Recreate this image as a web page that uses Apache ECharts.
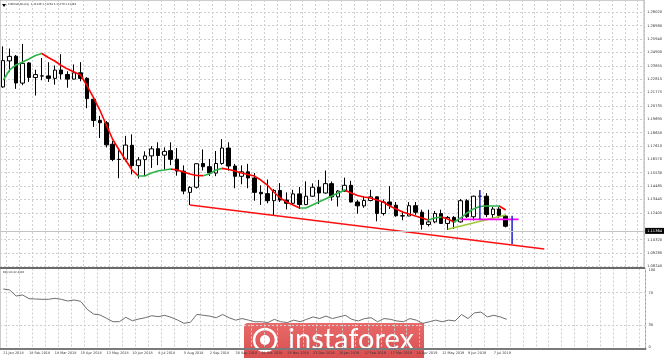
<!DOCTYPE html>
<html><head><meta charset="utf-8">
<script src="https://cdn.jsdelivr.net/npm/echarts@6/dist/echarts.min.js"></script>
<style>html,body{margin:0;padding:0;background:#fff}#c{width:665px;height:358px}</style>
</head><body><div id="c"></div>
<script>
// ---- data (weekly EURUSD, 21 Jan 2018 .. 21 Jul 2019) ----
const openV = [1.2221,1.2424,1.2460,1.2251,1.2408,1.2294,1.2306,1.2307,1.2288,1.2353,
1.2318,1.2282,1.2331,1.2288,1.2125,1.1960,1.1942,1.1775,1.1656,1.1658,
1.1767,1.1608,1.1655,1.1684,1.1740,1.1690,1.1725,1.1658,1.1565,1.1400,
1.1440,1.1625,1.1600,1.1550,1.1625,1.1745,1.1605,1.1525,1.1560,1.1512,
1.1400,1.1390,1.1335,1.1415,1.1340,1.1315,1.1388,1.1305,1.1370,1.1440,
1.1395,1.1468,1.1365,1.1410,1.1455,1.1325,1.1295,1.1337,1.1365,1.1235,
1.1325,1.1300,1.1218,1.1216,1.1296,1.1245,1.1150,1.1170,1.1235,1.1158,
1.1205,1.1170,1.1335,1.1210,1.1370,1.1370,1.1227,1.1270,1.12149];
const closeV = [1.2426,1.2459,1.2252,1.2405,1.2295,1.2317,1.2307,1.2288,1.2352,1.2322,
1.2282,1.2331,1.2288,1.2130,1.1960,1.1942,1.1770,1.1656,1.1657,1.1768,
1.1608,1.1653,1.1684,1.1739,1.1687,1.1719,1.1657,1.1566,1.1410,1.1439,
1.1623,1.1600,1.1550,1.1625,1.1745,1.1605,1.1525,1.1560,1.1512,1.1400,
1.1389,1.1335,1.1415,1.1340,1.1315,1.1388,1.1305,1.1370,1.1440,1.1395,
1.1468,1.1365,1.1410,1.1455,1.1325,1.1295,1.1337,1.1365,1.1235,1.1325,
1.1300,1.1218,1.1216,1.1296,1.1245,1.1150,1.1170,1.1235,1.1158,1.1205,
1.1170,1.1335,1.1210,1.1370,1.1370,1.1227,1.1270,1.1220,1.11364];
const highV = [1.2537,1.2520,1.2470,1.2556,1.2414,1.2355,1.2446,1.2413,1.2388,1.2476,
1.2343,1.2396,1.2414,1.2297,1.2131,1.1996,1.1955,1.1800,1.1728,1.1840,
1.1852,1.1675,1.1720,1.1760,1.1790,1.1750,1.1790,1.1745,1.1610,1.1448,
1.1624,1.1734,1.1660,1.1722,1.1815,1.1790,1.1621,1.1610,1.1622,1.1550,
1.1455,1.1500,1.1425,1.1472,1.1400,1.1420,1.1442,1.1486,1.1470,1.1497,
1.1570,1.1485,1.1418,1.1515,1.1490,1.1340,1.1371,1.1420,1.1368,1.1345,
1.1448,1.1325,1.1256,1.1324,1.1325,1.1265,1.1265,1.1255,1.1265,1.1215,
1.1215,1.1348,1.1347,1.1374,1.1412,1.1394,1.1287,1.1285,1.12254];
const lowV = [1.2214,1.2336,1.2206,1.2235,1.2260,1.2154,1.2273,1.2260,1.2239,1.2280,
1.2215,1.2281,1.2265,1.2055,1.1910,1.1823,1.1750,1.1643,1.1510,1.1640,
1.1540,1.1508,1.1528,1.1590,1.1612,1.1575,1.1612,1.1530,1.1385,1.1301,
1.1430,1.1570,1.1528,1.1526,1.1615,1.1570,1.1432,1.1463,1.1432,1.1335,
1.1302,1.1315,1.1216,1.1325,1.1267,1.1310,1.1270,1.1300,1.1365,1.1309,
1.1390,1.1335,1.1290,1.1405,1.1322,1.1234,1.1280,1.1330,1.1175,1.1220,
1.1270,1.1210,1.1183,1.1215,1.1225,1.1110,1.1135,1.1160,1.1155,1.1107,
1.1115,1.1165,1.1202,1.1181,1.1350,1.1207,1.1193,1.1200,1.11270];
const maV = [1.2275,1.2353,1.2392,1.2415,1.2438,1.2466,1.2481,1.2450,1.2423,1.2388,
1.2360,1.2337,1.2314,1.2232,1.2139,1.2041,1.1925,1.1812,1.1730,1.1652,
1.1574,1.1527,1.1527,1.1551,1.1567,1.1574,1.1582,1.1574,1.1558,1.1543,
1.1531,1.1530,1.1543,1.1574,1.1587,1.1578,1.1566,1.1551,1.1539,1.1527,
1.1496,1.1457,1.1403,1.1356,1.1325,1.1302,1.1278,1.1278,1.1302,1.1325,
1.1348,1.1372,1.1395,1.1419,1.1395,1.1376,1.1364,1.1356,1.1341,1.1325,
1.1294,1.1271,1.1247,1.1232,1.1216,1.1200,1.1185,1.1200,1.1208,1.1193,
1.1169,1.1200,1.1239,1.1271,1.1290,1.1294,1.1294,1.1294,1.1263];
const rsiV = [74.6,73.4,65.9,67.2,62.6,62.2,61.8,61.8,63.0,61.8,
59.7,61.0,59.3,49.4,43.6,42.4,38.3,34.1,34.1,39.5,
35.3,37.4,39.0,41.5,40.3,42.0,39.5,36.2,32.1,33.3,
43.2,42,41,39,43,39,36,38,36,34,
34,33,37,34,33,36,34,37,40,38,
41,38,40,42,37,35,38,39,34,38,
37,35,34,38,36,32,34,36,34,36,
35,43,38,45,46,40,42,40,37];
const xTickLabels = ['21 Jan 2018','18 Feb 2018','18 Mar 2018','15 Apr 2018','13 May 2018','10 Jun 2018','8 Jul 2018','5 Aug 2018','2 Sep 2018','30 Sep 2018','28 Oct 2018','25 Nov 2018','23 Dec 2018','20 Jan 2019','17 Feb 2019','17 Mar 2019','14 Apr 2019','12 May 2019','9 Jun 2019','7 Jul 2019'];
const priceTicks = ['1.28020','1.26980','1.25940','1.24900','1.23855','1.22815','1.21775','1.20735','1.19695','1.18650','1.17610','1.16570','1.15530','1.14485','1.13445','1.12405','1.10320','1.09280','1.08240'];
const rsiTicks = [0,30,70,100];
const rsiGrid = [30,70];
const lastPrice = 1.11364;
const titleText = 'EURUSD,Weekly  1.12149 1.12254 1.11270 1.11364';
const rsiTitle = 'RSI(14) 42.4836';
// drawn objects: [index, price]
const supportLine = [[29,1.1301],[84,1.0959]];
const limeLine = [[69,1.1112],[78,1.1224]];
const magentaLine = [[71,1.1190],[80,1.1190]];
const blueLine1 = [[74,1.1418],[74,1.1190]];
const blueLine2 = [[79,1.1218],[79,1.0998]];
const slots = 100;

// ---- build ----
const cats = Array.from({length:slots},(_,i)=>String(i));
const candles = openV.map((o,i)=>[o,closeV[i],lowV[i],highV[i]]);
const pieces = [];
for (let i=0;i<maV.length-1;i++){
  pieces.push({gte:i, lte:i+1, color: maV[i+1] >= maV[i] ? '#2db34a' : '#ff0000'});
}
const gridDash = {color:'#cfcfcf', width:1, type:[2,2]};
const chart = echarts.init(document.getElementById('c'));
const xBase = {
  type:'category', data:cats, boundaryGap:true,
  axisTick:{show:false},
  splitLine:{show:true, interval:(i)=>i%2===1, lineStyle:gridDash}
};
chart.setOption({
  animation:false,
  backgroundColor:'#ffffff',
  grid:[
    {left:0, right:19.5, top:0, height:268, show:true, borderColor:'#9a9a9a', borderWidth:1},
    {left:0, right:19.5, top:268.5, height:80.7, show:true, borderColor:'#9a9a9a', borderWidth:1}
  ],
  xAxis:[
    Object.assign({}, xBase, {gridIndex:0, axisLabel:{show:false},
      axisLine:{show:true, lineStyle:{color:'#6a6a6a', width:2}}}),
    Object.assign({}, xBase, {gridIndex:1,
      axisLine:{show:true, lineStyle:{color:'#7a7a7a', width:2}},
      axisLabel:{show:true, interval:(i)=>i%4===0 && i/4<xTickLabels.length,
        formatter:(v,i)=>xTickLabels[Number(v)/4] || '',
        align:'left', fontSize:3.4, color:'#333', margin:2.5, fontFamily:'DejaVu Sans'}})
  ],
  yAxis:[
    {type:'value', gridIndex:0, position:'right', min:1.0811, max:1.2898,
     axisLine:{show:false},
     axisTick:{show:false, customValues:priceTicks.map(Number)},
     axisLabel:{customValues:priceTicks.map(Number), formatter:(v)=>v.toFixed(5),
       fontSize:3.6, color:'#333', margin:3, fontFamily:'DejaVu Sans'},
     splitLine:{show:true, lineStyle:gridDash}},
    {type:'value', gridIndex:1, position:'right', min:0, max:100,
     axisLine:{show:false},
     axisTick:{show:false, customValues:rsiGrid},
     axisLabel:{customValues:rsiTicks, fontSize:3.6, color:'#333', margin:3, fontFamily:'DejaVu Sans',
       verticalAlignMinLabel:'bottom', verticalAlignMaxLabel:'top'},
     splitLine:{show:true, lineStyle:gridDash}}
  ],
  visualMap:[{show:false, type:'piecewise', seriesIndex:1, dimension:0, pieces:pieces}],
  series:[
    {type:'candlestick', xAxisIndex:0, yAxisIndex:0, data:candles, barWidth:4,
     itemStyle:{color:'#ffffff', color0:'#000000', borderColor:'#000000', borderColor0:'#000000', borderWidth:1},
     markLine:{symbol:'none', silent:true, animation:false,
       data:[{yAxis:lastPrice}],
       lineStyle:{color:'#c4c4c4', type:'solid', width:1},
       label:{position:'end', distance:1, formatter:lastPrice.toFixed(5), backgroundColor:'#000', color:'#fff',
         fontSize:3.6, padding:[1,2,1,2], fontFamily:'DejaVu Sans'}}},
    {type:'line', xAxisIndex:0, yAxisIndex:0, data:maV, symbol:'none', lineStyle:{width:1.6}, z:3},
    {type:'line', xAxisIndex:0, yAxisIndex:0, data:supportLine, symbol:'none', lineStyle:{color:'#ff1010', width:1.6}, z:4},
    {type:'line', xAxisIndex:0, yAxisIndex:0, data:limeLine, symbol:'none', lineStyle:{color:'#9acd32', width:1.6}, z:4},
    {type:'line', xAxisIndex:0, yAxisIndex:0, data:magentaLine, symbol:'none', lineStyle:{color:'#ff00ff', width:1.6}, z:4},
    {type:'line', xAxisIndex:0, yAxisIndex:0, data:blueLine1, symbol:'none', lineStyle:{color:'#2b2bd6', width:1.6}, z:4},
    {type:'line', xAxisIndex:0, yAxisIndex:0, data:blueLine2, symbol:'none', lineStyle:{color:'#2b2bd6', width:1.6}, z:4},
    {type:'line', xAxisIndex:1, yAxisIndex:1, data:rsiV, symbol:'none', lineStyle:{color:'#6e6e6e', width:1}}
  ],
  graphic:[
    {type:'polygon', shape:{points:[[2,4],[6,4],[4,7]]}, style:{fill:'#000'}},
    {type:'text', left:8, top:3, style:{text:titleText, fontSize:2.6, fill:'#222', fontFamily:'DejaVu Sans'}},
    {type:'text', left:3, top:271, style:{text:rsiTitle, fontSize:2.6, fill:'#222', fontFamily:'DejaVu Sans'}},
    {type:'group', left:244, top:323, children:[
      {type:'rect', shape:{x:0,y:0,width:180,height:35, r:[4,0,0,0]},
       style:{fill:new echarts.graphic.LinearGradient(0,0,0,1,[{offset:0,color:'#e86a6a'},{offset:1,color:'#d94f50'}])}},
      {type:'circle', shape:{cx:21,cy:17,r:11}, style:{fill:'none', stroke:'#fff', lineWidth:2.5}},
      {type:'circle', shape:{cx:21,cy:17,r:5}, style:{fill:'#fff'}},
      {type:'text', x:44, y:17, style:{text:'instaforex', fontSize:29, fill:'#fff', fontFamily:'Lato', verticalAlign:'middle'}}
    ]}
  ]
});
</script></body></html>
